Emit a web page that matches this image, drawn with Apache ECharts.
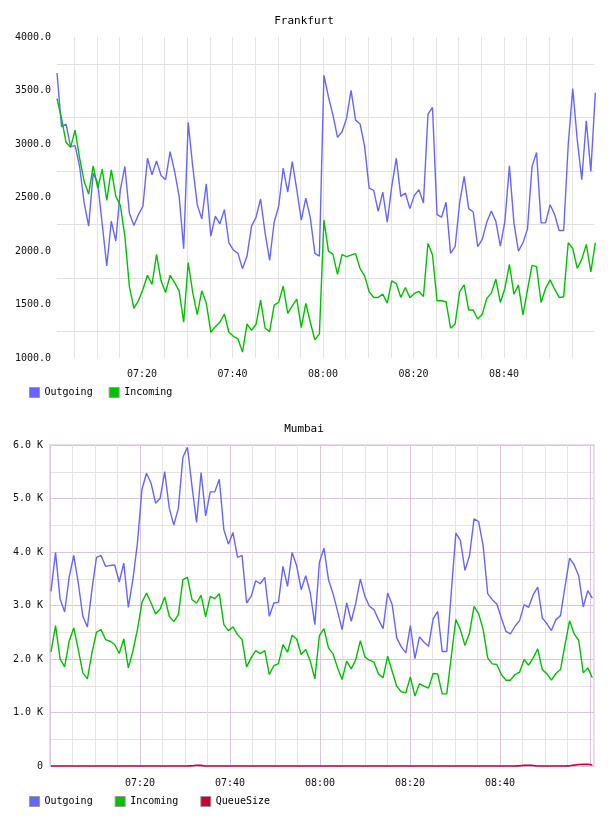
<!DOCTYPE html>
<html>
<head>
<meta charset="utf-8">
<script src="https://cdn.jsdelivr.net/npm/echarts@6/dist/echarts.min.js"></script>
<style>
  html, body { margin: 0; padding: 0; background: #fff; }
  #chart { width: 608px; height: 816px; }
</style>
</head>
<body>
<div id="chart"></div>
<script>
// sample times: minutes after 07:00 of the first point, and spacing in minutes
const frankfurtStart = 1.2, frankfurtStep = 1;
const mumbaiStart = 0.22, mumbaiStep = 1.011;

const frankfurtOutgoing = [
  3663,3161,3186,2975,2985,2790,2449,2232,2728,2635,
  2250,1860,2278,2093,2573,2790,2356,2238,2340,2418,
  2867,2712,2842,2706,2666,2929,2743,2511,2021,3202,
  2790,2433,2300,2628,2139,2325,2254,2387,2077,2009,
  1978,1835,1953,2232,2316,2486,2170,1913,2269,2418,
  2774,2551,2836,2573,2288,2495,2309,1978,1953,3642,
  3440,3270,3062,3115,3239,3502,3223,3186,2975,2588,
  2567,2371,2551,2269,2604,2867,2511,2542,2396,2520,
  2573,2449,3279,3341,2340,2316,2455,1978,2040,2449,
  2697,2396,2365,2040,2108,2269,2374,2278,2046,2278,
  2796,2263,1999,2077,2207,2790,2920,2263,2263,2433,
  2340,2192,2192,2991,3518,3037,2666,3217,2743,3480
];
const frankfurtIncoming = [
  3425,3239,3016,2969,3130,2867,2650,2532,2796,2588,
  2765,2474,2759,2511,2427,2139,1668,1464,1535,1643,
  1773,1687,1969,1721,1612,1773,1705,1628,1334,1891,
  1612,1405,1628,1513,1241,1293,1334,1411,1241,1203,
  1179,1055,1318,1259,1315,1541,1278,1247,1495,1520,
  1671,1417,1488,1550,1284,1510,1334,1169,1225,2288,
  1999,1969,1782,1966,1947,1962,1975,1835,1767,1619,
  1566,1566,1597,1513,1721,1696,1566,1659,1563,1603,
  1622,1575,2071,1966,1535,1535,1526,1278,1318,1619,
  1684,1448,1448,1365,1408,1557,1606,1736,1519,1650,
  1876,1597,1681,1402,1637,1866,1854,1519,1650,1730,
  1643,1566,1572,2077,2024,1839,1922,2062,1804,2077
];

const mumbaiOutgoing = [
  3264,3992,3121,2879,3532,3936,3420,2798,2599,3296,
  3899,3936,3731,3749,3756,3439,3793,2966,3482,4166,
  5173,5472,5285,4912,5005,5503,4819,4502,4819,5770,
  5957,5223,4552,5484,4676,5124,5124,5360,4415,4147,
  4365,3899,3936,3047,3171,3463,3407,3526,2798,3047,
  3059,3731,3358,3992,3743,3296,3557,3233,2643,3805,
  4073,3482,3221,2891,2549,3047,2705,3047,3495,3171,
  2985,2922,2736,2568,3233,3016,2394,2226,2114,2624,
  2008,2413,2313,2238,2748,2891,2139,2139,3250,4353,
  4216,3656,3930,4620,4570,4116,3221,3109,3028,2767,
  2518,2469,2612,2717,3016,2966,3202,3345,2767,2661,
  2531,2736,2811,3358,3886,3762,3557,2972,3277,3140
];
const mumbaiIncoming = [
  2133,2624,2002,1853,2332,2580,2176,1741,1629,2114,
  2500,2549,2363,2332,2270,2102,2375,1834,2145,2549,
  3059,3233,3047,2842,2935,3159,2798,2699,2829,3482,
  3526,3109,3047,3190,2786,3171,3128,3221,2643,2531,
  2599,2456,2363,1853,2021,2158,2102,2158,1710,1878,
  1915,2270,2127,2444,2375,2083,2176,1959,1629,2437,
  2568,2207,2095,1834,1617,1959,1816,1990,2344,2039,
  1977,1940,1722,1648,2052,1772,1492,1387,1368,1666,
  1306,1536,1492,1455,1729,1722,1349,1349,2052,2736,
  2549,2251,2487,2985,2848,2549,2021,1909,1896,1710,
  1604,1604,1710,1753,1990,1884,2021,2189,1803,1722,
  1604,1729,1803,2270,2717,2469,2350,1741,1834,1648
];
const mumbaiQueue = [
  0,0,0,0,0,0,0,0,0,0,
  0,0,0,0,0,0,0,0,0,0,
  0,0,0,0,0,0,0,0,0,0,
  0,6,14,12,0,0,0,0,0,0,
  0,0,0,0,0,0,0,0,0,0,
  0,0,0,0,0,0,0,0,0,0,
  0,0,0,0,0,0,0,0,0,0,
  0,0,0,0,0,0,0,0,0,0,
  0,0,0,0,0,0,0,0,0,0,
  0,0,0,0,0,0,0,0,0,0,
  0,0,0,4,12,14,8,0,0,0,
  0,0,0,0,6,16,28,32,32,20
];

const BLUE = '#6666ff', GREEN = '#00c000', RED = '#cc0033';
const FONT = 'DejaVu Sans Mono';
const GRAY_LINE = '#e4e4e4', PINK_LINE = '#dcc4dc';

function toPoints(values, start, step) {
  return values.map((v, i) => [start + i * step, v]);
}
function timeLabel(v) {
  if (Math.abs(v % 20) > 1e-6 || v <= 0 || v >= 120) return '';
  const m = Math.round(v);
  const h = 7 + Math.floor(m / 60), mm = m % 60;
  return String(h).padStart(2, '0') + ':' + String(mm).padStart(2, '0');
}
function lineSeries(name, data, color, xi, yi, extra) {
  return Object.assign({
    name: name, type: 'line', xAxisIndex: xi, yAxisIndex: yi,
    data: data, showSymbol: false, symbol: 'none',
    lineStyle: { color: color, width: 1.4 }, itemStyle: { color: color },
    animation: false
  }, extra || {});
}

const chart = echarts.init(document.getElementById('chart'));
const labelStyle = { fontFamily: FONT, fontSize: 10, color: '#111' };

chart.setOption({
  animation: false,
  title: [
    { text: 'Frankfurt', left: 'center', top: 11,
      textStyle: { fontFamily: FONT, fontSize: 11, fontWeight: 'normal', color: '#000' } },
    { text: 'Mumbai', left: 'center', top: 419,
      textStyle: { fontFamily: FONT, fontSize: 11, fontWeight: 'normal', color: '#000' } }
  ],
  legend: [
    { data: ['Outgoing', 'Incoming'], left: 24, top: 382, itemWidth: 10, itemHeight: 10,
      itemGap: 16, selectedMode: false, icon: 'rect',
      itemStyle: { borderColor: '#999', borderWidth: 1 },
      textStyle: { fontFamily: FONT, fontSize: 10, color: '#000' } },
    { data: ['Outgoing', 'Incoming', 'QueueSize'], left: 24, top: 791, itemWidth: 10, itemHeight: 10,
      itemGap: 22, selectedMode: false, icon: 'rect',
      itemStyle: { borderColor: '#999', borderWidth: 1 },
      textStyle: { fontFamily: FONT, fontSize: 10, color: '#000' } }
  ],
  grid: [
    { left: 57, right: 14, top: 37, height: 321 },
    { left: 50, right: 14, top: 445, height: 321, show: true,
      borderColor: '#eedcee', borderWidth: 2, backgroundColor: 'transparent' }
  ],
  xAxis: [
    // the Frankfurt plot stops just short of 09:00, the last sample sits on its edge
    { type: 'value', gridIndex: 0, min: frankfurtStart, max: 119.9,
      splitNumber: 24, minInterval: 5, maxInterval: 5,
      axisLine: { show: false }, axisTick: { show: false },
      axisLabel: Object.assign({ formatter: timeLabel, margin: 11, showMinLabel: false, showMaxLabel: false }, labelStyle),
      splitLine: { show: true, showMinLine: false, showMaxLine: false,
        lineStyle: { color: GRAY_LINE, width: 1 } } },
    { type: 'value', gridIndex: 1, min: 0, max: 120.9, interval: 5,
      axisLine: { show: false }, axisTick: { show: false },
      axisLabel: Object.assign({ formatter: timeLabel, margin: 12, showMinLabel: false, showMaxLabel: false }, labelStyle),
      splitLine: { show: true, showMaxLine: false,
        lineStyle: { color: [PINK_LINE, GRAY_LINE, GRAY_LINE, GRAY_LINE], width: 1 } } }
  ],
  yAxis: [
    { type: 'value', gridIndex: 0, min: 1000, max: 4000, interval: 250,
      axisLine: { show: false }, axisTick: { show: false },
      axisLabel: Object.assign({ margin: 6,
        formatter: v => (v % 500 === 0 ? v.toFixed(1) : '') }, labelStyle),
      splitLine: { show: true, lineStyle: { color: ['rgba(0,0,0,0)', '#e0e0e0'], width: 1 } } },
    { type: 'value', gridIndex: 1, min: 0, max: 6000, interval: 500,
      axisLine: { show: false }, axisTick: { show: false },
      axisLabel: Object.assign({ margin: 7,
        formatter: v => (v === 0 ? '0' : (v % 1000 === 0 ? (v / 1000).toFixed(1) + ' K' : '')) }, labelStyle),
      splitLine: { show: true, lineStyle: { color: [PINK_LINE, GRAY_LINE], width: 1 } } }
  ],
  series: [
    lineSeries('Outgoing', toPoints(frankfurtOutgoing, frankfurtStart, frankfurtStep), BLUE, 0, 0, { clip: false }),
    lineSeries('Incoming', toPoints(frankfurtIncoming, frankfurtStart, frankfurtStep), GREEN, 0, 0, { clip: false }),
    lineSeries('Outgoing', toPoints(mumbaiOutgoing, mumbaiStart, mumbaiStep), BLUE, 1, 1),
    lineSeries('Incoming', toPoints(mumbaiIncoming, mumbaiStart, mumbaiStep), GREEN, 1, 1),
    lineSeries('QueueSize', toPoints(mumbaiQueue, mumbaiStart, mumbaiStep), RED, 1, 1,
      { smooth: true, clip: false, lineStyle: { color: RED, width: 1.6 } })
  ]
});
</script>
</body>
</html>
